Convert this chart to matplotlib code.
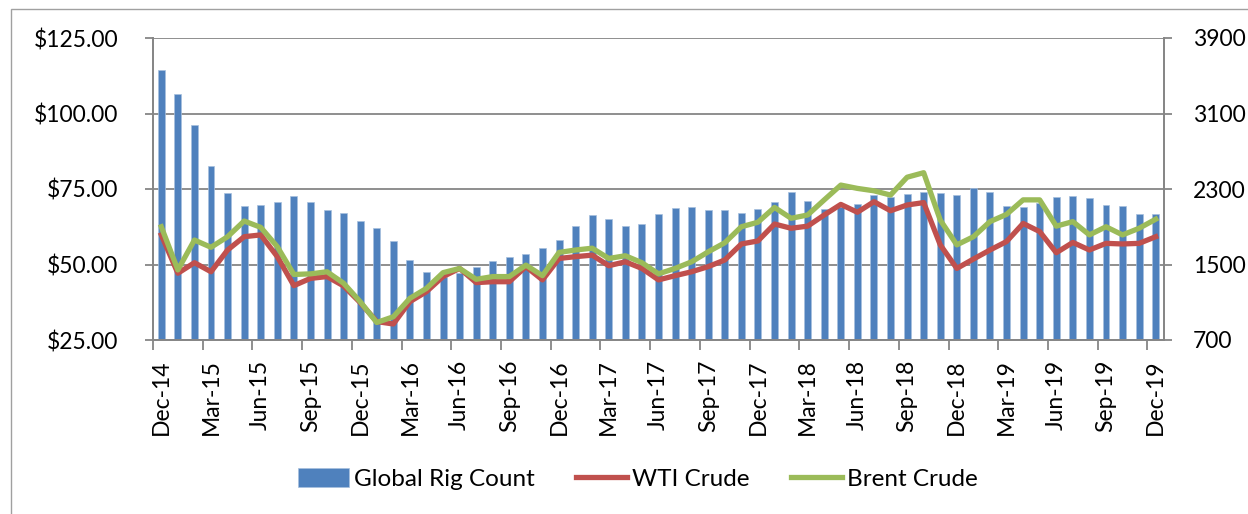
import numpy as np
import matplotlib
matplotlib.use("Agg")
import matplotlib.pyplot as plt
from matplotlib.patches import Rectangle

plt.rcParams['font.family'] = ['Lato', 'DejaVu Sans']

# monthly, Dec-14 .. Dec-19
months = ['Dec', 'Jan', 'Feb', 'Mar', 'Apr', 'May', 'Jun', 'Jul', 'Aug', 'Sep', 'Oct', 'Nov']
labels = []
for i in range(61):
    yr = 14 + (i + 11) // 12
    labels.append(f"{months[i % 12]}-{yr}")

rig_count = [3561, 3303, 2978, 2547, 2258, 2120, 2130, 2159, 2222, 2162,
             2077, 2042, 1961, 1883, 1749, 1544, 1417, 1371, 1410, 1477,
             1537, 1576, 1611, 1671, 1760, 1911, 2021, 1979, 1908, 1929,
             2035, 2102, 2109, 2077, 2074, 2049, 2084, 2165, 2265, 2173,
             2084, 2110, 2144, 2240, 2219, 2250, 2265, 2258, 2236, 2311,
             2268, 2124, 2109, 2150, 2215, 2229, 2201, 2131, 2117, 2035,
             2035]

wti = [59.8, 47.1, 50.6, 47.6, 54.8, 59.2, 59.8, 52.6, 43.0, 45.4,
       46.0, 42.9, 37.4, 31.1, 30.3, 37.7, 41.0, 46.0, 48.7, 44.0,
       44.3, 44.3, 49.3, 44.9, 52.0, 52.6, 53.1, 49.6, 50.9, 48.7,
       44.9, 46.3, 47.6, 49.3, 51.5, 56.8, 57.8, 63.4, 62.0, 62.7,
       66.4, 69.9, 67.3, 70.8, 67.8, 69.7, 70.5, 56.5, 48.7, 51.8,
       54.8, 57.6, 63.6, 60.9, 53.9, 57.3, 54.8, 57.0, 56.8, 57.0,
       59.2]

brent = [62.5, 48.2, 58.1, 55.7, 59.2, 64.4, 62.3, 55.9, 46.7, 46.9,
         47.6, 43.8, 37.7, 30.8, 32.7, 38.8, 42.1, 47.3, 48.7, 45.1,
         46.0, 46.0, 49.8, 46.3, 54.0, 54.8, 55.4, 52.0, 52.9, 50.6,
         46.9, 48.7, 50.9, 54.2, 57.2, 62.5, 64.0, 68.9, 65.3, 66.4,
         71.4, 76.3, 75.2, 74.4, 73.0, 78.9, 80.4, 64.7, 56.5, 59.2,
         64.2, 66.6, 71.4, 71.4, 62.7, 64.2, 59.8, 62.5, 59.8, 62.0,
         65.0]

blue = '#4F81BD'
red = '#C0504D'
green = '#9BBB59'
gray = '#868686'

x = np.arange(len(labels))

fig = plt.figure(figsize=(12.48, 5.14), dpi=100)
ax2 = fig.add_axes([153 / 1248, 1 - 340 / 514, (1164 - 153) / 1248, (340 - 38) / 514])
ax = ax2.twinx()
ax.yaxis.tick_left()
ax.yaxis.set_label_position('left')
ax2.yaxis.tick_right()

# outer border
fig.patches.append(Rectangle((11 / 1248, -0.1), 1.1, 1 - 9 / 514 + 0.1, transform=fig.transFigure,
                             fill=False, edgecolor='#A0A0A0', linewidth=1.0))

bars = ax2.bar(x, rig_count, width=0.42, color=blue, edgecolor='#A7C0DE', linewidth=0.5,
               label='Global Rig Count', zorder=2)
ax2.set_ylim(700, 3900)
ax2.set_yticks([700, 1500, 2300, 3100, 3900])
ax2.grid(axis='y', color=gray, linewidth=1.3)
ax2.set_axisbelow(True)

l1, = ax.plot(x, wti, color=red, linewidth=3.8, label='WTI Crude', solid_joinstyle='round')
l2, = ax.plot(x, brent, color=green, linewidth=3.8, label='Brent Crude', solid_joinstyle='round')
ax.set_ylim(25, 125)
ax.set_yticks([25, 50, 75, 100, 125])
ax.set_yticklabels([f"${v:.2f}" for v in [25, 50, 75, 100, 125]])
ax.set_zorder(ax2.get_zorder() + 1)
ax.patch.set_visible(False)

ax2.set_xlim(-0.5, 60.5)
ax2.set_xticks(x[::3])
ax2.set_xticklabels(labels[::3], rotation=90, fontsize=16.5)
ax2.set_xticks(np.arange(-0.5, 61, 3), minor=True)
ax2.tick_params(axis='x', which='major', length=0, pad=14)
ax2.tick_params(axis='x', which='minor', length=7, width=1.3, color=gray)
ax2.tick_params(axis='y', labelsize=16.5, length=6, width=1.3, color=gray, pad=15)
ax.tick_params(axis='y', labelsize=16.5, length=6, width=1.3, color=gray, pad=19)

for a in (ax, ax2):
    for s in a.spines.values():
        s.set_color(gray)
        s.set_linewidth(1.3)
    a.spines['top'].set_visible(False)

fig.legend(handles=[bars, l1, l2], loc='center', bbox_to_anchor=(0.511, 0.068), ncol=3,
           frameon=False, fontsize=17.5, handlelength=2.1, handleheight=0.8,
           handletextpad=0.2, columnspacing=1.7)

fig.savefig('out.png', dpi=100)
